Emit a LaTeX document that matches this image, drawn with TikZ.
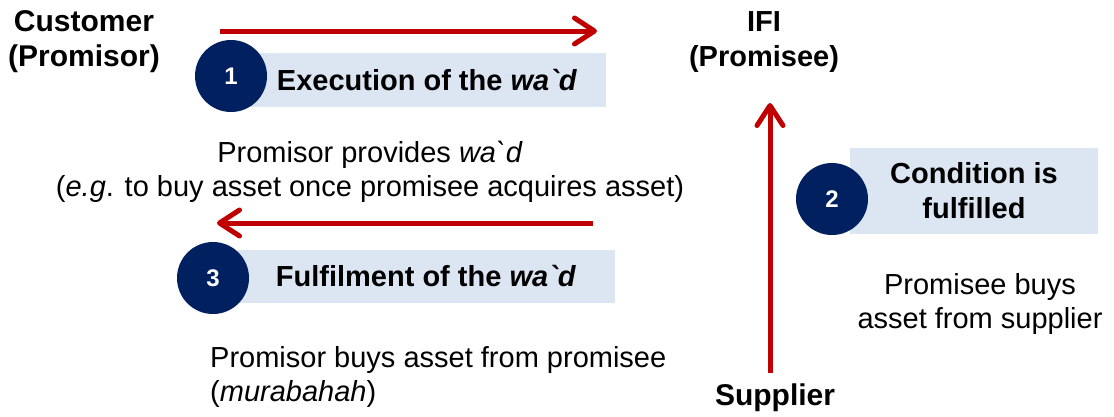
\documentclass[tikz,border=0pt]{standalone}
\usepackage{fontspec}
\setmainfont{Liberation Sans}[Ligatures=TeXOff]
\usetikzlibrary{arrows.meta}
\definecolor{wredc}{HTML}{C00000}
\definecolor{navy}{HTML}{002060}
\definecolor{lblue}{HTML}{DCE6F2}
\begin{document}
\begin{tikzpicture}[x=1pt,y=-1pt,
  boldlbl/.style={font=\fontsize{29}{35}\selectfont\bfseries, inner sep=0, align=center},
  body/.style={font=\fontsize{29}{34}\selectfont, inner sep=0},
  num/.style={circle, fill=navy, text=white, font=\fontsize{24}{24}\selectfont\bfseries, minimum size=72pt, inner sep=0},
  band/.style={fill=lblue, inner sep=0, font=\fontsize{29}{35}\selectfont\bfseries, align=center},
  redarrow/.style={draw=wredc, line width=5pt, -{Straight Barb[length=20pt,width=26pt,round]}}
]
\useasboundingbox (0,0) rectangle (1114,416);

% party labels
\node[boldlbl, font=\fontsize{30}{35}\selectfont\bfseries] (cust) at (84,42) {Customer\\(Promisor)};
\node[boldlbl] (ifi) at (764,42) {IFI\\(Promisee)};
\node[boldlbl, font=\fontsize{30}{35}\selectfont\bfseries, anchor=base] (sup) at (775,405) {Supplier};

% bands
\node[band, minimum width=358pt, minimum height=54pt] (b1) at (427,80) {Execution of the \textit{wa`d}};
\node[band, minimum width=378pt, minimum height=53pt] (b3) at (426,276.5) {Fulfilment of the \textit{wa`d}};
\node[band, minimum width=248pt, minimum height=86pt] (b2) at (974,191) {Condition is\\fulfilled};

% numbered circles
\node[num] (n1) at (231,76) {1};
\node[num] (n2) at (832,199) {2};
\node[num] (n3) at (213,278) {3};

% descriptive texts
\node[body, align=center] (p1) at (370,172) {Promisor provides \textit{wa`d}\\(\textit{e.g}. to buy asset once promisee acquires asset)};
\node[body, align=center] (p2) at (980,304) {Promisee buys\\asset from supplier};
\node[body, align=left, anchor=west] (p3) at (210,377) {Promisor buys asset from promisee\\(\textit{murabahah})};

% arrows
\coordinate (a1s) at (220,31);
\coordinate (a1e) at (597,31);
\coordinate (a3s) at (593,223);
\coordinate (a3e) at (217,223);
\coordinate (a2s) at (770,373);
\coordinate (a2e) at (770,103);
\draw[redarrow] (a1s) -- (a1e);
\draw[redarrow] (a3s) -- (a3e);
\draw[redarrow] (a2s) -- (a2e);
\end{tikzpicture}
\end{document}
